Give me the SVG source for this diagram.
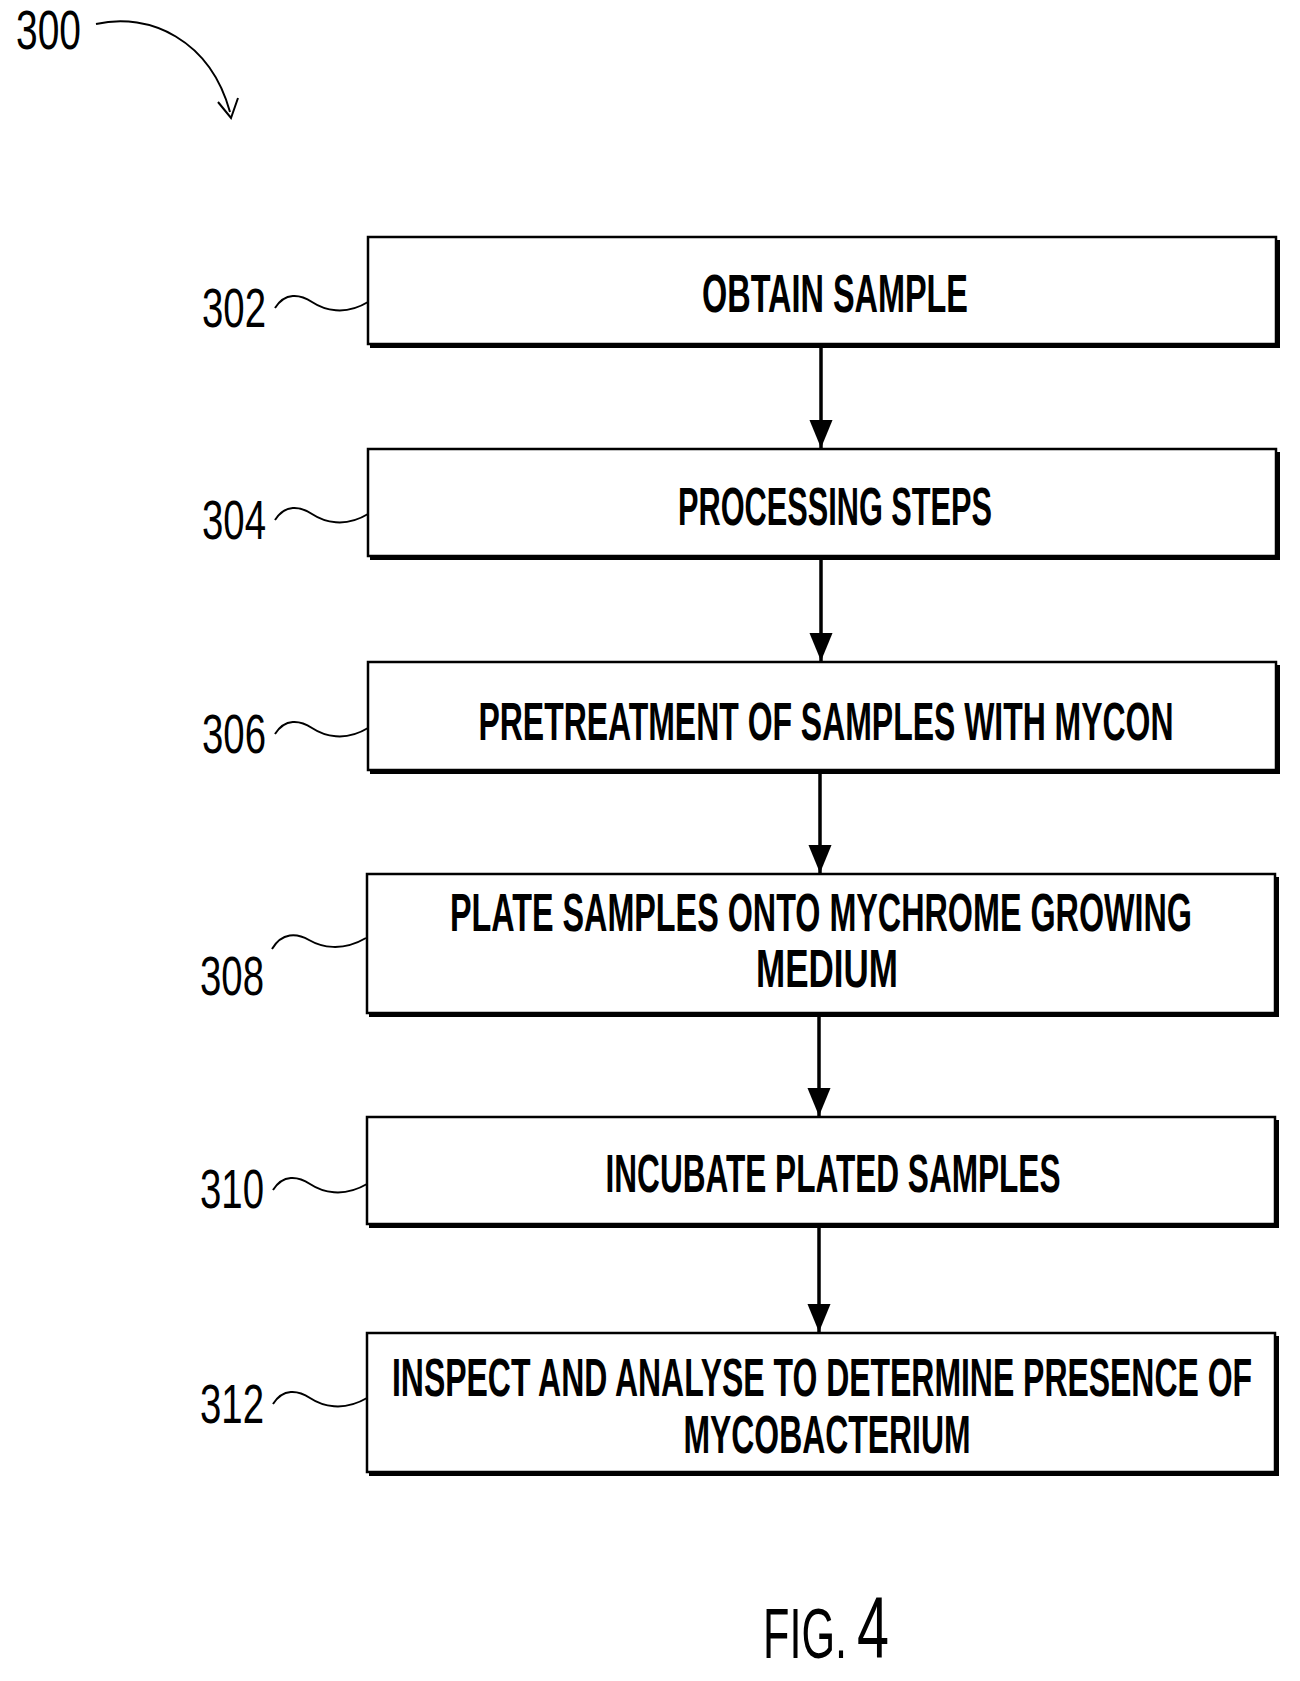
<svg xmlns="http://www.w3.org/2000/svg" width="1300" height="1681" viewBox="0 0 1300 1681">
<defs>
<style>
.box{fill:#fff;stroke:#000;stroke-width:2.5}
.sh{fill:none;stroke:#000;stroke-width:4}
.t{font-family:"Liberation Sans",Arial,sans-serif;font-size:54px;font-weight:bold;fill:#000;text-anchor:middle}
.l{font-family:"Liberation Sans",Arial,sans-serif;font-size:56px;fill:#000}
.sq{fill:none;stroke:#000;stroke-width:2}
.c{stroke:#000;stroke-width:3.5;fill:none}
</style>
<marker id="ah" markerWidth="28" markerHeight="34" refX="34" refY="14" orient="auto" markerUnits="userSpaceOnUse" viewBox="0 0 34 28"><path d="M0,0 L34,14 L0,28 z" fill="#000"/></marker>
</defs>
<rect width="1300" height="1681" fill="#fff"/>
<g id="label300">
<text class="l" x="16" y="49" textLength="65" lengthAdjust="spacingAndGlyphs">300</text>
<path class="sq" d="M96,24 C150,12 210,40 230,112"/>
<path class="sq" d="M218,102 L231,118 L238,98"/>
</g>
<g id="n302">
<path class="sh" d="M370,346 H1278 V240"/>
<rect class="box" x="368" y="237" width="908" height="107"/>
<text class="t" x="835" y="312" textLength="266" lengthAdjust="spacingAndGlyphs">OBTAIN SAMPLE</text>
<text class="l" x="202" y="327" textLength="64" lengthAdjust="spacingAndGlyphs">302</text>
<path class="sq" d="M275,308 C285,292 300,294 312,302 S345,316 368,302"/>
</g>
<g id="n304">
<path class="sh" d="M370,558 H1278 V452"/>
<rect class="box" x="368" y="449" width="908" height="107"/>
<text class="t" x="835" y="525" textLength="314" lengthAdjust="spacingAndGlyphs">PROCESSING STEPS</text>
<text class="l" x="202" y="539" textLength="64" lengthAdjust="spacingAndGlyphs">304</text>
<path class="sq" d="M275,520 C285,504 300,506 312,514 S345,528 368,514"/>
</g>
<g id="n306">
<path class="sh" d="M370,772 H1278 V665"/>
<rect class="box" x="368" y="662" width="908" height="108"/>
<text class="t" x="826" y="740" textLength="695" lengthAdjust="spacingAndGlyphs">PRETREATMENT OF SAMPLES WITH MYCON</text>
<text class="l" x="202" y="753" textLength="64" lengthAdjust="spacingAndGlyphs">306</text>
<path class="sq" d="M275,734 C285,718 300,720 312,728 S345,742 368,728"/>
</g>
<g id="n308">
<path class="sh" d="M369,1015 H1277 V877"/>
<rect class="box" x="367" y="874" width="908" height="139"/>
<text class="t" x="821" y="931" textLength="742" lengthAdjust="spacingAndGlyphs">PLATE SAMPLES ONTO MYCHROME GROWING</text>
<text class="t" x="827" y="987" textLength="142" lengthAdjust="spacingAndGlyphs">MEDIUM</text>
<text class="l" x="200" y="995" textLength="64" lengthAdjust="spacingAndGlyphs">308</text>
<path class="sq" d="M272,949 C282,932 297,933 309,940 S342,952 366,938"/>
</g>
<g id="n310">
<path class="sh" d="M369,1226 H1277 V1120"/>
<rect class="box" x="367" y="1117" width="908" height="107"/>
<text class="t" x="833" y="1192" textLength="455" lengthAdjust="spacingAndGlyphs">INCUBATE PLATED SAMPLES</text>
<text class="l" x="200" y="1208" textLength="64" lengthAdjust="spacingAndGlyphs">310</text>
<path class="sq" d="M273,1190 C283,1174 298,1176 310,1184 S343,1198 367,1184"/>
</g>
<g id="n312">
<path class="sh" d="M369,1474 H1277 V1336"/>
<rect class="box" x="367" y="1333" width="908" height="139"/>
<text class="t" x="822" y="1396" textLength="860" lengthAdjust="spacingAndGlyphs">INSPECT AND ANALYSE TO DETERMINE PRESENCE OF</text>
<text class="t" x="827" y="1453" textLength="287" lengthAdjust="spacingAndGlyphs">MYCOBACTERIUM</text>
<text class="l" x="200" y="1423" textLength="64" lengthAdjust="spacingAndGlyphs">312</text>
<path class="sq" d="M273,1404 C283,1388 298,1390 310,1398 S343,1412 367,1398"/>
</g>
<g id="connectors">
<line class="c" x1="821" y1="346" x2="821" y2="448" marker-end="url(#ah)"/>
<line class="c" x1="821" y1="558" x2="821" y2="661" marker-end="url(#ah)"/>
<line class="c" x1="820" y1="772" x2="820" y2="873" marker-end="url(#ah)"/>
<line class="c" x1="819" y1="1015" x2="819" y2="1116" marker-end="url(#ah)"/>
<line class="c" x1="819" y1="1226" x2="819" y2="1332" marker-end="url(#ah)"/>
</g>
<g id="caption">
<text class="l" x="763" y="1658" style="font-size:70px" textLength="84" lengthAdjust="spacingAndGlyphs">FIG.</text>
<text class="l" x="857" y="1658" style="font-size:88px" textLength="32" lengthAdjust="spacingAndGlyphs">4</text>
</g>
</svg>
